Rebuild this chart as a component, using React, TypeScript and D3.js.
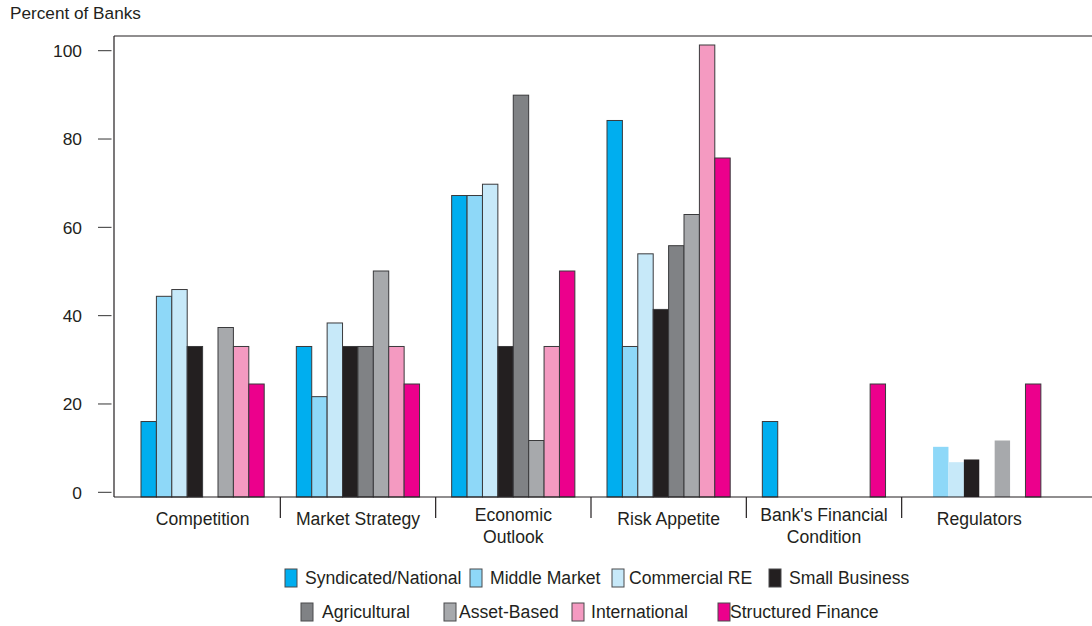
import React from "react";
import * as d3 from "d3";

// ---- data ----
const categories = [
  "Competition",
  "Market Strategy",
  "Economic Outlook",
  "Risk Appetite",
  "Bank's Financial Condition",
  "Regulators",
];
const categoryLines = [
  ["Competition"],
  ["Market Strategy"],
  ["Economic", "Outlook"],
  ["Risk Appetite"],
  ["Bank's Financial", "Condition"],
  ["Regulators"],
];
const seriesNames = [
  "Syndicated/National",
  "Middle Market",
  "Commercial RE",
  "Small Business",
  "Agricultural",
  "Asset-Based",
  "International",
  "Structured Finance",
];
const syndicatedNational = [16.7, 33.3, 66.7, 83.3, 16.7, 0];
const middleMarket = [44.4, 22.2, 66.7, 33.3, 0, 11.1];
const commercialRE = [45.9, 38.5, 69.2, 53.8, 0, 7.7];
const smallBusiness = [33.3, 33.3, 33.3, 41.5, 0, 8.3];
const agricultural = [0, 33.3, 88.9, 55.6, 0, 0];
const assetBased = [37.5, 50, 12.5, 62.5, 0, 12.5];
const international = [33.3, 33.3, 33.3, 100, 0, 0];
const structuredFinance = [25, 25, 50, 75, 25, 25];
const seriesValues = [
  syndicatedNational,
  middleMarket,
  commercialRE,
  smallBusiness,
  agricultural,
  assetBased,
  international,
  structuredFinance,
];
const yTicks = [0, 20, 40, 60, 80, 100];

// ---- styles / layout ----
const colors = [
  "#00AEEF",
  "#8ED8F8",
  "#C7E9F9",
  "#231F20",
  "#808285",
  "#A7A9AC",
  "#F49AC1",
  "#EC008C",
];
const legendLayout = [
  { sx: 285, tx: 305, row: 0 },
  { sx: 470, tx: 490, row: 0 },
  { sx: 612, tx: 629, row: 0 },
  { sx: 769, tx: 789, row: 0 },
  { sx: 301, tx: 322, row: 1 },
  { sx: 444, tx: 459, row: 1 },
  { sx: 572, tx: 591, row: 1 },
  { sx: 718, tx: 730, row: 1 },
];
const W = 1092;
const H = 626;
const axisX = 114;
const topY = 36;
const baseY = 497;
const FONT = "'Liberation Sans', Arial, Helvetica, sans-serif";
const TXT = "#231F20";
const FS = 17.6;

export default function App() {
  const x0 = d3.scaleBand<string>().domain(categories).range([125, 1057]).paddingInner(0);
  const x1 = d3
    .scaleBand<string>()
    .domain(seriesNames)
    .range([16, 16 + 123.2])
    .padding(0);
  const yBar = d3.scaleLinear().domain([0, 100]).range([baseY, 45]);
  const yAxis = d3.scaleLinear().domain([0, 100]).range([492.3, 50.7]);

  const bars: React.ReactNode[] = [];
  categories.forEach((c, ci) => {
    seriesNames.forEach((s, si) => {
      const v = seriesValues[si][ci];
      if (!v) return;
      const outlined = !(c === "Regulators" && s !== "Structured Finance");
      bars.push(
        <rect
          key={`${ci}-${si}`}
          x={(x0(c) ?? 0) + (x1(s) ?? 0)}
          y={yBar(v)}
          width={x1.bandwidth()}
          height={baseY - yBar(v)}
          fill={colors[si]}
          stroke={outlined ? "#3a3a3c" : "none"}
          strokeWidth={1}
        />
      );
    });
  });

  return (
    <svg
      width={W}
      height={H}
      style={{ position: "absolute", left: 0, top: 0, background: "#fff" }}
      fontFamily={FONT}
    >
      <text x={10} y={19} fontSize={17.2} fill={TXT}>
        Percent of Banks
      </text>

      {/* y ticks */}
      {yTicks.map((t) => (
        <g key={t}>
          <line x1={98} x2={111.5} y1={yAxis(t)} y2={yAxis(t)} stroke="#333" strokeWidth={1} />
          <text
            x={82}
            y={yAxis(t)}
            dy="0.36em"
            textAnchor="end"
            fontSize={17.4}
            fill={TXT}
          >
            {t}
          </text>
        </g>
      ))}

      {bars}

      {/* frame */}
      <line x1={axisX} x2={axisX} y1={topY} y2={baseY} stroke="#231F20" strokeWidth={1.2} />
      <line x1={axisX} x2={W} y1={topY} y2={topY} stroke="#231F20" strokeWidth={1.2} />
      <line x1={axisX} x2={W} y1={baseY} y2={baseY} stroke="#231F20" strokeWidth={1.2} />

      {/* group separators */}
      {categories.slice(1).map((c) => (
        <line
          key={c}
          x1={x0(c)}
          x2={x0(c)}
          y1={baseY}
          y2={518}
          stroke="#231F20"
          strokeWidth={1.2}
        />
      ))}

      {/* category labels */}
      {categories.map((c, ci) => {
        const cx = (x0(c) ?? 0) + x0.bandwidth() / 2;
        const lines = categoryLines[ci];
        return (
          <text key={c} textAnchor="middle" fontSize={FS} fill={TXT}>
            {lines.map((l, li) => (
              <tspan
                key={li}
                x={cx}
                y={lines.length === 1 ? 525 : 521 + li * 22}
              >
                {l}
              </tspan>
            ))}
          </text>
        );
      })}

      {/* legend */}
      {seriesNames.map((s, si) => {
        const L = legendLayout[si];
        const cy = L.row === 0 ? 578 : 612;
        return (
          <g key={s}>
            <rect
              x={L.sx}
              y={cy - 9}
              width={12}
              height={18}
              fill={colors[si]}
              stroke="#4a4a4c"
              strokeWidth={1}
            />
            <text x={L.tx} y={cy} dy="0.36em" fontSize={FS} fill={TXT}>
              {s}
            </text>
          </g>
        );
      })}
    </svg>
  );
}
